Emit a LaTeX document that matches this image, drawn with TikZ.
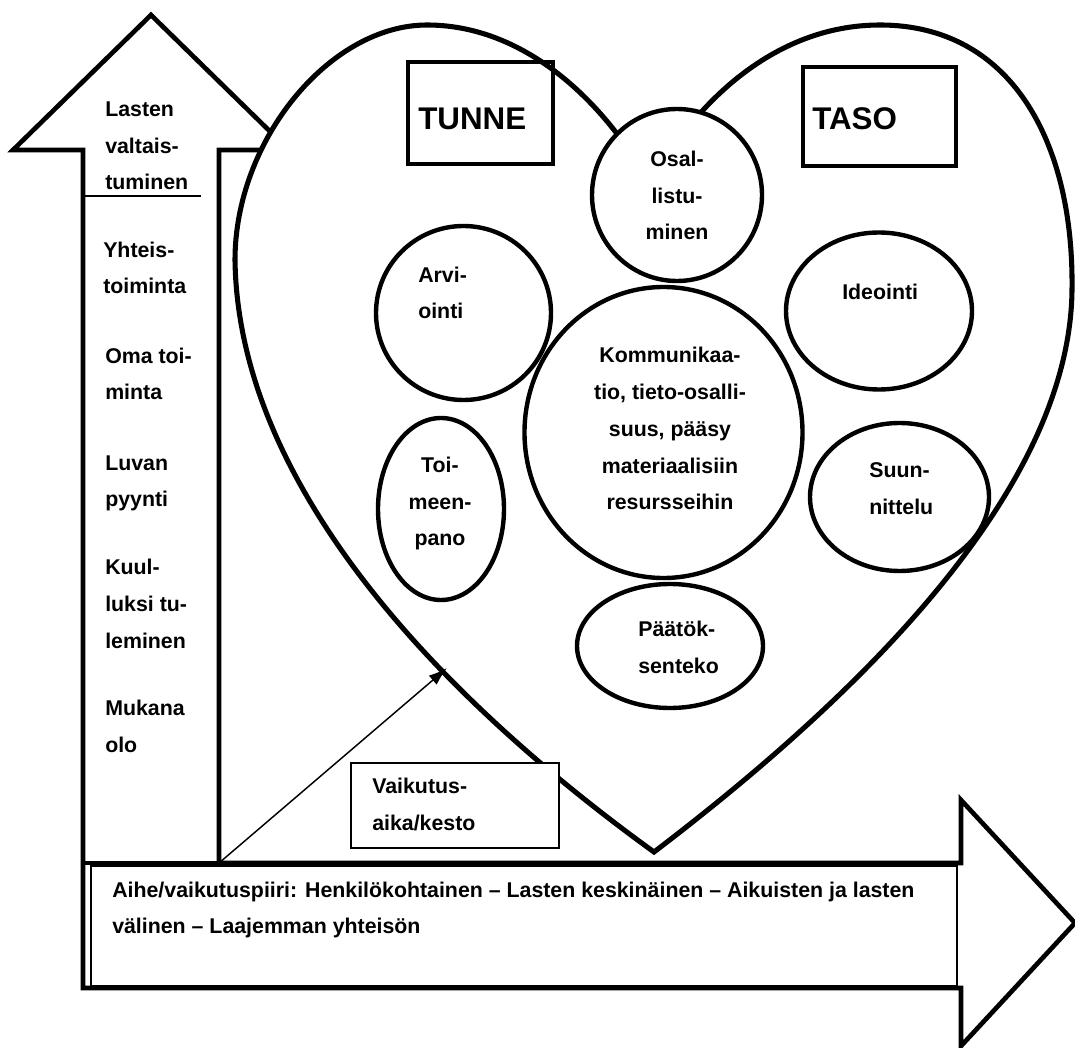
\documentclass[tikz,border=0pt]{standalone}
\usepackage{fontspec}
\setmainfont{Liberation Sans}
\usetikzlibrary{shapes.geometric,arrows.meta}
\begin{document}
\begin{tikzpicture}[x=0.75pt,y=-0.75pt,
  outline/.style={line width=3.5pt, line join=miter},
  heartline/.style={line width=3.8pt, line join=miter, fill=white},
  bubble/.style={ellipse, draw, line width=3.3pt, fill=white, inner sep=0pt},
  titlebox/.style={rectangle, draw, line width=3pt, inner sep=0pt},
  thinbox/.style={rectangle, draw, line width=1pt, fill=white, inner sep=0pt},
  txt/.style={font=\fontsize{16}{27.6}\selectfont\bfseries, inner sep=0pt, align=left, anchor=base west},
  ctxt/.style={txt, align=center, anchor=base},
  big/.style={font=\fontsize{23.5}{27}\selectfont\bfseries, inner sep=0pt, anchor=base west}]

\useasboundingbox (0,0) rectangle (1075,1048);

% text frame inside the horizontal arrow body
\node[thinbox, minimum width=649.5pt, minimum height=90pt] (aihebox) at (524,926) {};

% vertical and horizontal arrows
\draw[outline] (83,150) -- (13,150) -- (151,15) -- (289,150) -- (219,150)
  -- (219,863) -- (961,863) -- (961,800) -- (1075,923) -- (961,1046)
  -- (961,988) -- (83,988) -- cycle;
\draw[outline] (83,863) -- (219,863);
\draw[line width=1.1pt] (84,196) -- (201,196);

% heart
\draw[heartline] (654,852) .. controls (430,690) and (238,480) .. (235,260)
  .. controls (235,140) and (330,25) .. (427,25)
  .. controls (530,25) and (610,110) .. (650,185)
  .. controls (690,110) and (770,25) .. (880,25)
  .. controls (1010,25) and (1074,140) .. (1072,290)
  .. controls (1070,480) and (880,680) .. cycle;

% title boxes
\node[titlebox, minimum width=108.75pt, minimum height=76.5pt] (tunnebox) at (480.5,113) {};
\node[titlebox, minimum width=114.75pt, minimum height=74.25pt] (tasobox) at (879.5,116.5) {};
\node[big] (tunne) at (418,130) {TUNNE};
\node[big] (taso) at (812,130) {TASO};

% bubbles
\node[bubble, minimum width=127.5pt, minimum height=129pt] (osal) at (677,195) {};
\node[bubble, minimum width=131.25pt, minimum height=130.5pt] (arvi) at (463.5,313) {};
\node[bubble, minimum width=139.5pt, minimum height=117.75pt] (ideo) at (879,311) {};
\node[bubble, minimum width=208.5pt, minimum height=218.25pt] (komm) at (663.5,432.5) {};
\node[bubble, minimum width=94.5pt, minimum height=136.5pt] (toim) at (441,509) {};
\node[bubble, minimum width=134.25pt, minimum height=111pt] (suun) at (899.5,497) {};
\node[bubble, minimum width=139.5pt, minimum height=93pt] (paat) at (670,646) {};

% duration box and its pointer
\node[thinbox, minimum width=156pt, minimum height=63.75pt] (kesto) at (455,805.5) {};
\coordinate (shaftfoot) at (219,863);
\coordinate (heartmark) at (447,668);
\draw[line width=1.1pt, -{Latex[length=14pt,width=9pt]}] (shaftfoot) -- (heartmark);

% bubble texts (anchored on the baseline of the last line)
\node[ctxt] (osaltxt) at (677,240) {Osal-\\listu-\\minen};
\node[txt] (arvitxt) at (418,319) {Arvi-\\ointi};
\node[txt] (ideotxt) at (842,300) {Ideointi};
\node[ctxt] (kommtxt) at (670,510) {Kommunikaa-\\tio, tieto-osalli-\\suus, pääsy\\materiaalisiin\\resursseihin};
\node[ctxt] (toimtxt) at (440,546) {Toi-\\meen-\\pano};
\node[txt] (suuntxt) at (869,514) {Suun-\\nittelu};
\node[txt] (paattxt) at (638,673) {Päätök-\\senteko};
\node[txt] (kestotxt) at (372,830) {Vaikutus-\\aika/kesto};

% level texts in the vertical arrow
\node[txt] (lv1) at (105,190) {Lasten\\valtais-\\tuminen};
\node[txt] (lv2) at (103,294) {Yhteis-\\toiminta};
\node[txt] (lv3) at (105,400) {Oma toi-\\minta};
\node[txt] (lv4) at (105,507) {Luvan\\pyynti};
\node[txt] (lv5) at (105,648) {Kuul-\\luksi tu-\\leminen};
\node[txt] (lv6) at (105,752) {Mukana\\olo};

% scope text in the horizontal arrow
\node[txt, font=\fontsize{16}{27}\selectfont\bfseries] (aihetxt) at (112,933) {Aihe/vaikutuspiiri: Henkilökohtainen – Lasten keskinäinen – Aikuisten ja lasten\\välinen – Laajemman yhteisön};
\end{tikzpicture}
\end{document}
